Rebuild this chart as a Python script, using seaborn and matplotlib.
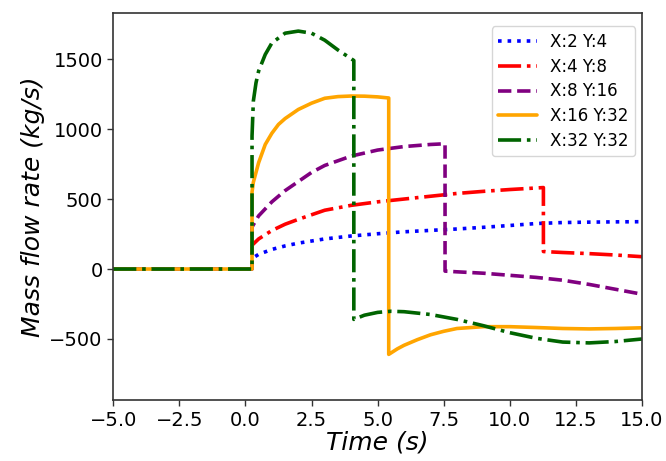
import matplotlib
matplotlib.use("Agg")
import matplotlib.pyplot as plt
import seaborn as sns
import pandas as pd

# Mass flow rate histories for each grid resolution
labels = ["X:2 Y:4", "X:4 Y:8", "X:8 Y:16", "X:16 Y:32", "X:32 Y:32"]

t_2_4 = [-5, 0.25, 0.25, 0.5, 1.0, 1.5, 2.0, 3.0, 4.0, 5.0, 6.0, 7.0, 8.0,
         9.0, 10.0, 11.0, 12.0, 13.0, 14.0, 15.0]
m_2_4 = [0, 0, 75, 105, 140, 165, 185, 215, 236, 252, 266, 276, 286,
         298, 311, 325, 332, 335, 337, 338]

t_4_8 = [-5, 0.25, 0.25, 0.5, 1.0, 1.5, 2.0, 3.0, 4.0, 5.0, 6.0, 7.0, 8.0,
         9.0, 10.0, 11.27, 11.27, 12.0, 13.0, 14.0, 15.0]
m_4_8 = [0, 0, 170, 215, 275, 320, 355, 420, 455, 480, 500, 520, 540,
         555, 568, 582, 125, 118, 110, 100, 88]

t_8_16 = [-5, 0.25, 0.25, 0.5, 1.0, 1.5, 2.0, 2.5, 3.0, 4.0, 5.0, 6.0, 7.0,
          7.55, 7.55, 8.0, 9.0, 10.0, 11.0, 12.0, 13.0, 14.0, 15.0]
m_8_16 = [0, 0, 300, 380, 480, 560, 625, 690, 740, 807, 850, 875, 890,
          895, -15, -20, -30, -45, -60, -80, -110, -145, -180]

t_16_32 = [-5, 0.25, 0.25, 0.3, 0.4, 0.5, 0.75, 1.0, 1.25, 1.5, 2.0, 2.5,
           3.0, 3.5, 4.0, 4.5, 5.0, 5.42, 5.42, 5.75, 6.0, 6.5, 7.0, 7.5,
           8.0, 9.0, 10.0, 11.0, 12.0, 13.0, 14.0, 15.0]
m_16_32 = [0, 0, 550, 620, 690, 760, 890, 970, 1033, 1075, 1140, 1185,
           1220, 1232, 1236, 1235, 1230, 1222, -610, -570, -545, -505, -470,
           -445, -425, -412, -412, -418, -425, -428, -425, -420]

t_32_32 = [-5, 0.25, 0.25, 0.3, 0.4, 0.5, 0.75, 1.0, 1.5, 2.0, 2.5, 3.0, 3.5,
           4.1, 4.1, 4.5, 5.0, 5.5, 6.0, 7.0, 8.0, 9.0, 10.0, 11.0, 12.0,
           13.0, 14.0, 15.0]
m_32_32 = [0, 0, 950, 1200, 1330, 1415, 1533, 1615, 1685, 1700, 1685, 1635,
           1565, 1490, -360, -330, -310, -302, -305, -325, -360, -405, -455,
           -495, -522, -528, -518, -500]

times = [t_2_4, t_4_8, t_8_16, t_16_32, t_32_32]
flows = [m_2_4, m_4_8, m_8_16, m_16_32, m_32_32]
colors = ["blue", "red", "purple", "orange", "darkgreen"]
styles = [":", "-.", "--", "-", "-."]

sns.set_theme(style="ticks")
plt.rcParams["font.family"] = ["DejaVu Sans"]
plt.rcParams["text.color"] = "black"
plt.rcParams["axes.labelcolor"] = "black"
plt.rcParams["xtick.color"] = "black"
plt.rcParams["ytick.color"] = "black"

fig = plt.figure(figsize=(6.66, 4.61), dpi=100)
ax = fig.add_axes([0.170, 0.132, 0.794, 0.840])

for lab, t, m, c, ls in zip(labels, times, flows, colors, styles):
    df = pd.DataFrame({"time": t, "flow": m})
    sns.lineplot(data=df, x="time", y="flow", ax=ax, color=c, linestyle=ls,
                 linewidth=2.6, label=lab, sort=False, estimator=None)

ax.set_xlim(-5, 15)
ax.set_ylim(-937, 1830)
ax.set_xticks([-5, -2.5, 0, 2.5, 5, 7.5, 10, 12.5, 15])
ax.set_yticks([-500, 0, 500, 1000, 1500])
ax.tick_params(labelsize=14, length=4, width=1, color="#333333",
               labelcolor="black")
ax.set_xlabel("Time (s)", fontsize=18, style="italic", labelpad=1)
ax.set_ylabel("Mass flow rate (kg/s)", fontsize=18, style="italic",
              labelpad=3)
for sp in ax.spines.values():
    sp.set_color("#333333")
    sp.set_linewidth(1.2)

ax.legend(loc="upper right", bbox_to_anchor=(0.987, 0.965), borderaxespad=0,
          fontsize=12, handlelength=2.3, framealpha=0.8, borderpad=0.4,
          labelspacing=0.4)

fig.savefig("out.png", dpi=100)
